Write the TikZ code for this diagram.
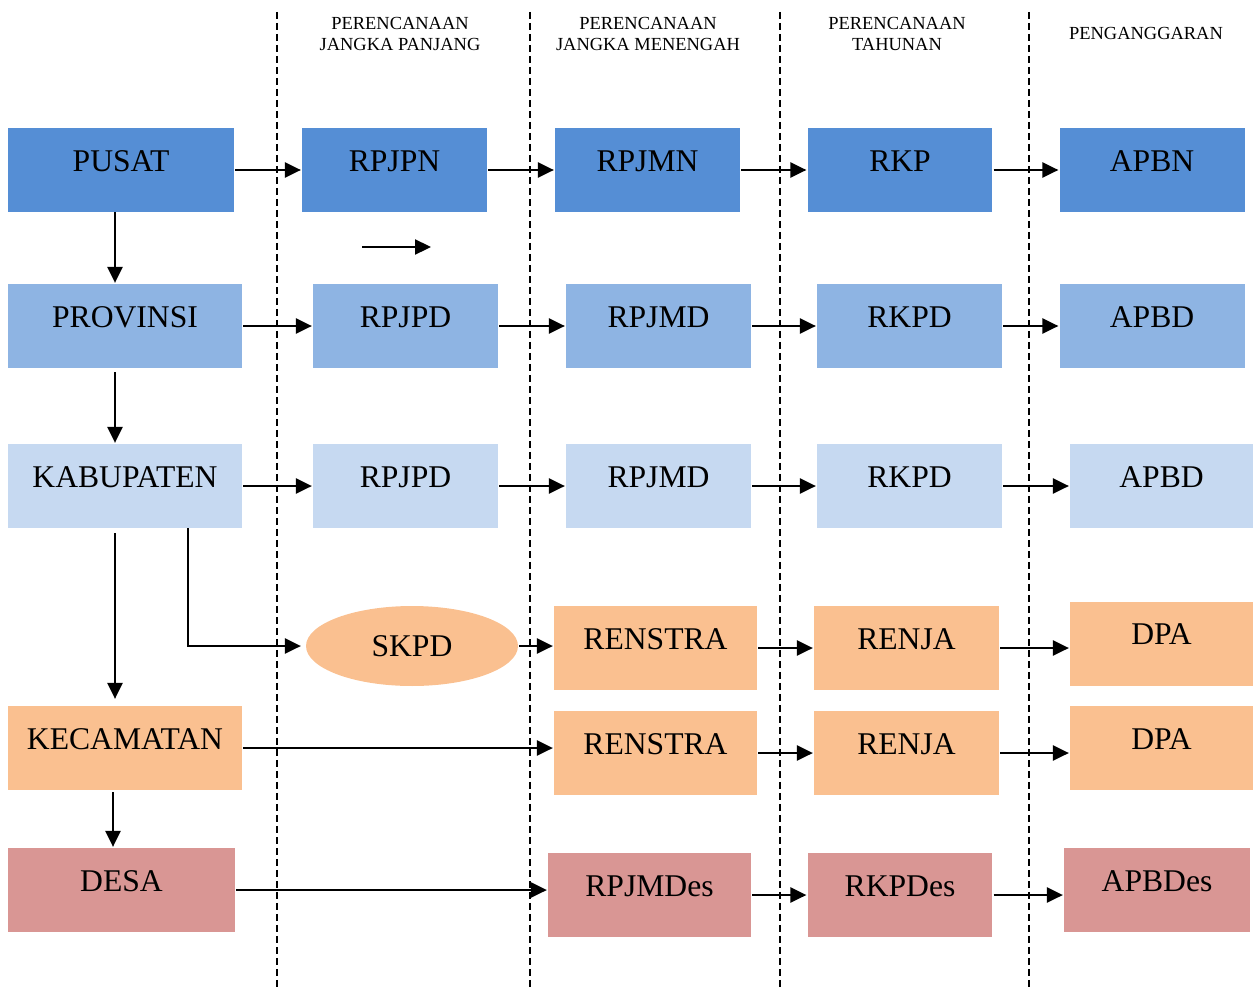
\documentclass[tikz,border=0pt]{standalone}
\usepackage{fontspec}
\setmainfont{Liberation Serif}
\usetikzlibrary{arrows.meta}
\usetikzlibrary{shapes.geometric}

\definecolor{pusatblue}{HTML}{558ED5}
\definecolor{provblue}{HTML}{8EB4E3}
\definecolor{kabblue}{HTML}{C6D9F1}
\definecolor{skpdorange}{HTML}{FAC090}
\definecolor{desared}{HTML}{D99694}

\tikzset{
  box/.style={shape=rectangle,inner sep=0pt,text height=0.86cm,text depth=0.82cm,
              minimum width=3.7cm,font=\fontsize{18}{21}\selectfont},
  head/.style={align=center,font=\fontsize{10.5}{12.5}\selectfont},
  sepline/.style={dash pattern=on 0.14cm off 0.08cm,line width=0.7pt}
}

\begin{document}
\begin{tikzpicture}[x=0.02cm,y=-0.02cm,line width=1.3pt,
                    >={Triangle[length=0.32cm,width=0.3cm]}]
    \useasboundingbox (0,0) rectangle (1253,990);

    % column separators
    \coordinate (d1a) at (277,12);  \coordinate (d1b) at (277,990);
    \coordinate (d2a) at (530,12);  \coordinate (d2b) at (530,990);
    \coordinate (d3a) at (780,12);  \coordinate (d3b) at (780,990);
    \coordinate (d4a) at (1029,12); \coordinate (d4b) at (1029,990);
    \draw[sepline] (d1a) -- (d1b);
    \draw[sepline] (d2a) -- (d2b);
    \draw[sepline] (d3a) -- (d3b);
    \draw[sepline] (d4a) -- (d4b);

    \node[head] (h1) at (400,34) {PERENCANAAN\\JANGKA PANJANG};
    \node[head] (h2) at (648,34) {PERENCANAAN\\JANGKA MENENGAH};
    \node[head] (h3) at (897,34) {PERENCANAAN\\TAHUNAN};
    \node[head] (h4) at (1146,33) {PENGANGGARAN};

    % pusat
    \node[box,fill=pusatblue,minimum width=4.52cm] (pusat) at (121,170) {PUSAT};
    \node[box,fill=pusatblue] (rpjpn) at (394.5,170) {RPJPN};
    \node[box,fill=pusatblue] (rpjmn) at (647.5,170) {RPJMN};
    \node[box,fill=pusatblue] (rkp) at (900,170) {RKP};
    \node[box,fill=pusatblue] (apbn) at (1152,170) {APBN};

    % provinsi
    \node[box,fill=provblue,minimum width=4.68cm] (prov) at (125,326) {PROVINSI};
    \node[box,fill=provblue] (rpjpdA) at (405.5,326) {RPJPD};
    \node[box,fill=provblue] (rpjmdA) at (658.5,326) {RPJMD};
    \node[box,fill=provblue] (rkpdA) at (909.5,326) {RKPD};
    \node[box,fill=provblue] (apbdA) at (1152,326) {APBD};

    % kabupaten
    \node[box,fill=kabblue,minimum width=4.68cm] (kab) at (125,486) {KABUPATEN};
    \node[box,fill=kabblue] (rpjpdB) at (405.5,486) {RPJPD};
    \node[box,fill=kabblue] (rpjmdB) at (658.5,486) {RPJMD};
    \node[box,fill=kabblue] (rkpdB) at (909.5,486) {RKPD};
    \node[box,fill=kabblue,minimum width=3.66cm] (apbdB) at (1161.5,486) {APBD};

    % skpd
    \node[shape=ellipse,fill=skpdorange,inner sep=0pt,minimum width=4.24cm,minimum height=1.6cm,
          font=\fontsize{18}{21}\selectfont] (skpd) at (412,646) {SKPD};
    \node[box,fill=skpdorange,minimum width=4.06cm] (renstraA) at (655.5,648) {RENSTRA};
    \node[box,fill=skpdorange] (renjaA) at (906.5,648) {RENJA};
    \node[box,fill=skpdorange,minimum width=3.66cm] (dpaA) at (1161.5,643.5) {DPA};

    % kecamatan
    \node[box,fill=skpdorange,minimum width=4.68cm] (kec) at (125,748) {KECAMATAN};
    \node[box,fill=skpdorange,minimum width=4.06cm] (renstraB) at (655.5,753) {RENSTRA};
    \node[box,fill=skpdorange] (renjaB) at (906.5,753) {RENJA};
    \node[box,fill=skpdorange,minimum width=3.66cm] (dpaB) at (1161.5,748) {DPA};

    % desa
    \node[box,fill=desared,minimum width=4.54cm] (desa) at (121.5,890) {DESA};
    \node[box,fill=desared,minimum width=4.06cm] (rpjmdes) at (649.5,895) {RPJMDes};
    \node[box,fill=desared] (rkpdes) at (900,895) {RKPDes};
    \node[box,fill=desared,minimum width=3.72cm] (apbdes) at (1157,890) {APBDes};

    % horizontal arrows
    \path [->] (pusat.east) edge (pusat.east -| rpjpn.west);
    \path [->] (rpjpn.east) edge (rpjpn.east -| rpjmn.west);
    \path [->] (rpjmn.east) edge (rpjmn.east -| rkp.west);
    \path [->] (rkp.east) edge (rkp.east -| apbn.west);

    \path [->] (prov.east) edge (prov.east -| rpjpdA.west);
    \path [->] (rpjpdA.east) edge (rpjpdA.east -| rpjmdA.west);
    \path [->] (rpjmdA.east) edge (rpjmdA.east -| rkpdA.west);
    \path [->] (rkpdA.east) edge (rkpdA.east -| apbdA.west);

    \path [->] (kab.east) edge (kab.east -| rpjpdB.west);
    \path [->] (rpjpdB.east) edge (rpjpdB.east -| rpjmdB.west);
    \path [->] (rpjmdB.east) edge (rpjmdB.east -| rkpdB.west);
    \path [->] (rkpdB.east) edge (rkpdB.east -| apbdB.west);

    \path [->] (skpd.east) edge (skpd.east -| renstraA.west);
    \path [->] (renstraA.east) edge (renstraA.east -| renjaA.west);
    \path [->] (renjaA.east) edge (renjaA.east -| dpaA.west);

    \path [->] (kec.east) edge (kec.east -| renstraB.west);
    \path [->] (renstraB.east) edge (renstraB.east -| renjaB.west);
    \path [->] (renjaB.east) edge (renjaB.east -| dpaB.west);

    \path [->] (desa.east) edge (desa.east -| rpjmdes.west);
    \path [->] (rpjmdes.east) edge (rpjmdes.east -| rkpdes.west);
    \path [->] (rkpdes.east) edge (rkpdes.east -| apbdes.west);

    % vertical arrows
    \coordinate (v1) at (115,212);
    \coordinate (v2) at (115,372);
    \coordinate (v3) at (115,533);
    \coordinate (v4) at (113,792);
    \coordinate (v5) at (188,528);
    \path [->] (v1) edge (v1 |- prov.north);
    \path [->] (v2) edge (v2 |- kab.north);
    \path [->] (v3) edge ([yshift=0.12cm]v3 |- kec.north);
    \path [->] (v4) edge (v4 |- desa.north);
    \draw [->] (v5) |- ([xshift=-0.08cm]skpd.west);

    % loose arrow
    \coordinate (s1) at (362,247);
    \coordinate (s2) at (431,247);
    \draw [->] (s1) -- (s2);

\end{tikzpicture}
\end{document}
